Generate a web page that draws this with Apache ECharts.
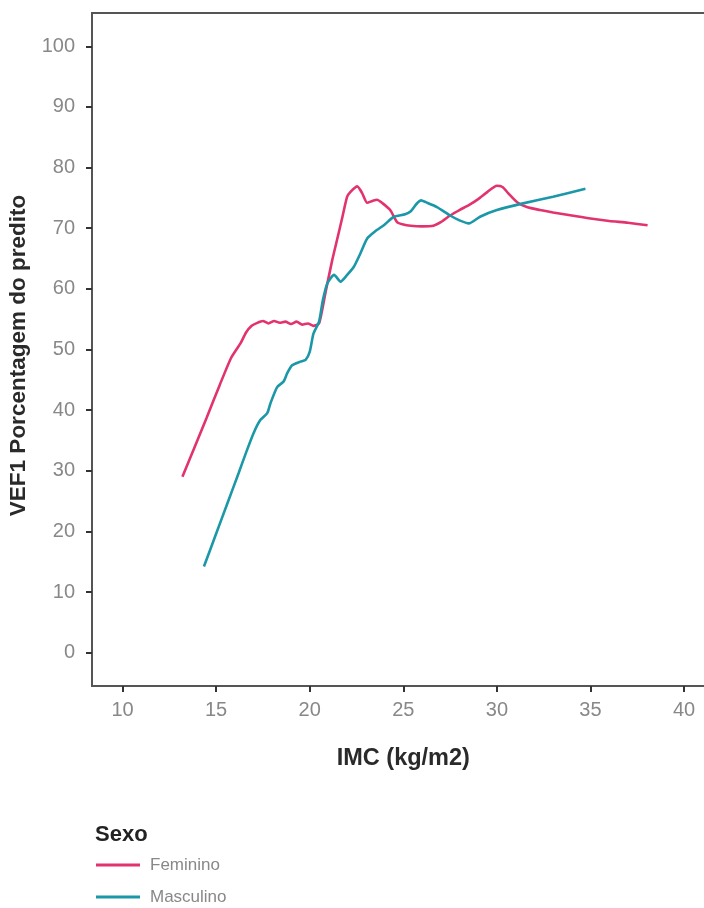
<!DOCTYPE html>
<html>
<head>
<meta charset="utf-8">
<script src="https://cdn.jsdelivr.net/npm/echarts@6/dist/echarts.min.js"></script>
<style>
  html, body { margin: 0; padding: 0; background: #fff; }
  #chart { width: 704px; height: 908px; }
</style>
</head>
<body>
<div id="chart"></div>
<script>
// IMC (kg/m2) vs VEF1 % do predito, by sex
const imcFeminino = [13.2, 13.8, 14.5, 15.2, 15.8, 16.3, 16.6, 16.9, 17.2, 17.5, 17.8, 18.1, 18.4, 18.7, 19.0, 19.3, 19.6, 19.9, 20.2, 20.5,
  20.85, 21.2, 21.5, 21.75, 22.0, 22.18, 22.54, 22.8, 23.07, 23.35, 23.6, 23.9, 24.3, 24.67, 25.0, 25.4, 26.0, 26.6, 27.0, 27.5, 28.0, 28.5,
  29.0, 29.5, 30.0, 30.3, 30.6, 31.08, 31.6, 32.3, 33.0, 34.0, 35.0, 36.0, 37.0, 38.05];
const vef1Feminino = [29.0, 33.5, 38.8, 44.2, 48.6, 51.0, 52.8, 53.9, 54.4, 54.7, 54.3, 54.7, 54.4, 54.6, 54.2, 54.6, 54.1, 54.3, 53.9, 54.3,
  59.5, 64.7, 68.6, 71.9, 75.2, 76.0, 76.9, 75.8, 74.2, 74.5, 74.7, 74.1, 73.0, 71.0, 70.6, 70.4, 70.3, 70.4, 71.0, 72.1, 73.0, 73.8,
  74.8, 76.0, 77.0, 76.8, 75.8, 74.3, 73.5, 73.0, 72.6, 72.1, 71.6, 71.2, 70.9, 70.5];

const imcMasculino = [14.35, 15.0, 15.6, 16.2, 16.6, 17.0, 17.37, 17.73, 17.9, 18.26, 18.6, 18.8, 19.06, 19.5, 19.78, 20.0, 20.2, 20.5, 20.7,
  20.94, 21.3, 21.65, 22.0, 22.35, 22.7, 23.07, 23.5, 23.96, 24.5, 25.1, 25.4, 25.7, 25.95, 26.2, 26.8, 27.5, 28.0, 28.5, 29.1, 30.0, 31.4,
  33.0, 34.73];
const vef1Masculino = [14.2, 19.6, 24.6, 29.6, 33.0, 36.2, 38.4, 39.5, 41.1, 43.8, 44.7, 46.1, 47.4, 48.0, 48.3, 49.6, 52.6, 54.6, 58.1,
  60.9, 62.3, 61.2, 62.3, 63.6, 65.8, 68.3, 69.5, 70.5, 71.9, 72.3, 72.8, 74.0, 74.6, 74.3, 73.5, 72.1, 71.3, 70.8, 71.9, 73.0, 74.1,
  75.2, 76.5];

const xTicks = [10, 15, 20, 25, 30, 35, 40];
const yTicks = [0, 10, 20, 30, 40, 50, 60, 70, 80, 90, 100];

const pairs = (xs, ys) => xs.map((x, i) => [x, ys[i]]);

const axisColor = '#555';
const labelColor = '#888';
const baseFont = 'Liberation Sans, Arial, sans-serif';

const chart = echarts.init(document.getElementById('chart'), null, { renderer: 'canvas' });

chart.setOption({
  animation: false,
  backgroundColor: '#fff',
  grid: {
    left: 92, top: 13, width: 622.6, height: 673,
    outerBoundsMode: 'none',
    containLabel: false,
    show: true, borderColor: axisColor, borderWidth: 2, backgroundColor: 'transparent'
  },
  xAxis: {
    type: 'value',
    min: 8.37, max: 41.63,
    name: 'IMC (kg/m2)',
    nameLocation: 'middle',
    nameGap: 61,
    nameTextStyle: { fontFamily: baseFont, fontWeight: 'bold', fontSize: 23.5, color: '#2a2a2a' },
    axisLine: { show: true, onZero: false, lineStyle: { color: axisColor, width: 2 } },
    axisTick: { show: true, length: 6, lineStyle: { color: '#333', width: 2 }, customValues: xTicks },
    axisLabel: { color: labelColor, fontFamily: baseFont, fontSize: 20, margin: 14, customValues: xTicks },
    splitLine: { show: false }
  },
  yAxis: {
    type: 'value',
    min: -5.5, max: 105.5,
    name: 'VEF1 Porcentagem do predito',
    nameLocation: 'middle',
    nameGap: 52,
    nameRotate: 90,
    nameTextStyle: { fontFamily: baseFont, fontWeight: 'bold', fontSize: 22.5, color: '#2a2a2a', padding: [0, 12, 0, 0] },
    axisLine: { show: true, onZero: false, lineStyle: { color: axisColor, width: 2 } },
    axisTick: { show: true, length: 6, lineStyle: { color: '#333', width: 2 }, customValues: yTicks },
    axisLabel: { color: labelColor, fontFamily: baseFont, fontSize: 20, margin: 17, customValues: yTicks },
    splitLine: { show: false }
  },
  legend: {
    orient: 'vertical',
    left: 96, top: 856,
    padding: 0,
    icon: 'rect',
    itemWidth: 44, itemHeight: 3,
    itemGap: 14,
    textStyle: { color: labelColor, fontFamily: baseFont, fontSize: 17, lineHeight: 18, padding: [0, 0, 0, 5] },
    data: ['Feminino', 'Masculino']
  },
  graphic: [{
    type: 'text',
    left: 95, top: 824,
    style: { text: 'Sexo', fill: '#222', font: 'bold 22px ' + baseFont }
  }],
  series: [
    {
      name: 'Feminino', type: 'line', data: pairs(imcFeminino, vef1Feminino),
      showSymbol: false, symbol: 'none', smooth: 0.2,
      lineStyle: { color: '#e2336e', width: 2.6 }, itemStyle: { color: '#e2336e' }
    },
    {
      name: 'Masculino', type: 'line', data: pairs(imcMasculino, vef1Masculino),
      showSymbol: false, symbol: 'none', smooth: 0.2,
      lineStyle: { color: '#1b98a8', width: 2.6 }, itemStyle: { color: '#1b98a8' }
    }
  ]
});
</script>
</body>
</html>
